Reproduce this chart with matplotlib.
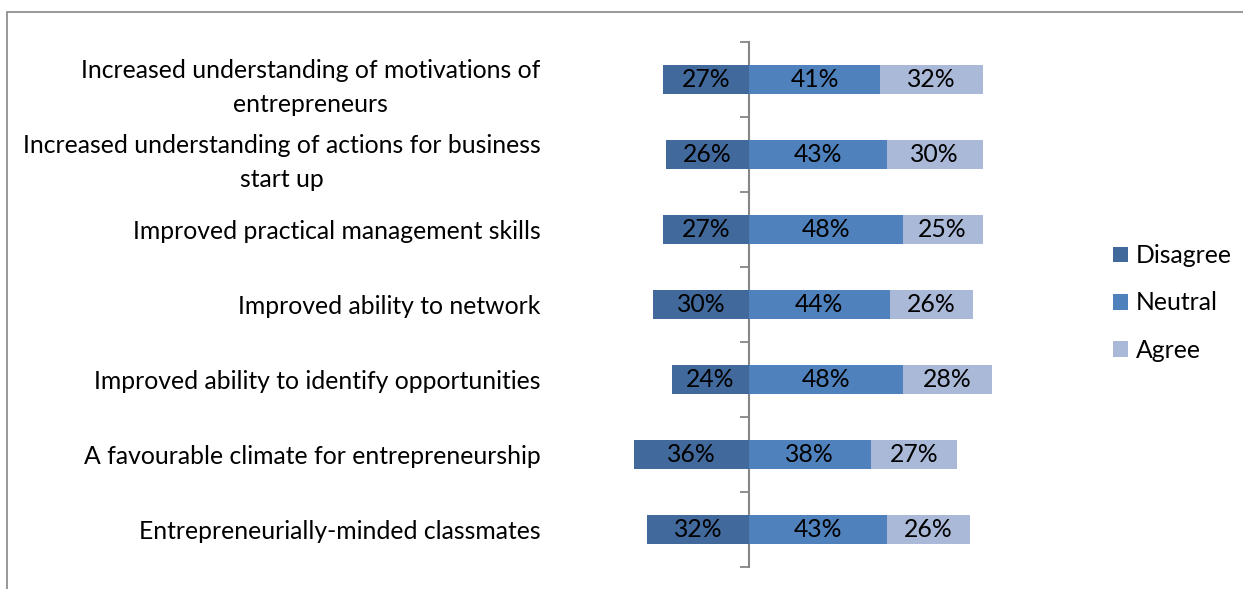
import matplotlib.pyplot as plt
from matplotlib.patches import Rectangle

plt.rcParams['font.family'] = ['Lato', 'DejaVu Sans']

categories = [
    "Increased understanding of motivations of\nentrepreneurs",
    "Increased understanding of actions for business\nstart up",
    "Improved practical management skills",
    "Improved ability to network",
    "Improved ability to identify opportunities",
    "A favourable climate for entrepreneurship",
    "Entrepreneurially-minded classmates",
]
disagree = [27, 26, 27, 30, 24, 36, 32]
neutral = [41, 43, 48, 44, 48, 38, 43]
agree = [32, 30, 25, 26, 28, 27, 26]

series_names = ["Disagree", "Neutral", "Agree"]
colors = ["#41699c", "#4f81bd", "#aab9d8"]

W, H = 1243, 589
fig = plt.figure(figsize=(W / 100, H / 100), dpi=100)

# plot area in pixels
left_px, right_px, top_px, bot_px = 550, 1080, 42, 567
ax = fig.add_axes([left_px / W, (H - bot_px) / H,
                   (right_px - left_px) / W, (bot_px - top_px) / H])

px_per_pct = 3.2
zero_px = 749
ax.set_xlim((left_px - zero_px) / px_per_pct, (right_px - zero_px) / px_per_pct)

y = list(range(len(categories)))
bh = 0.39
fs = 17.8

neg = [-d for d in disagree]
b1 = ax.barh(y, disagree, left=neg, height=bh, color=colors[0], label=series_names[0])
b2 = ax.barh(y, neutral, left=0, height=bh, color=colors[1], label=series_names[1])
b3 = ax.barh(y, agree, left=neutral, height=bh, color=colors[2], label=series_names[2])

for bars, vals in [(b1, disagree), (b2, neutral), (b3, agree)]:
    for bar, v in zip(bars, vals):
        ax.text(bar.get_x() + bar.get_width() / 2, bar.get_y() + bar.get_height() / 2,
                f"{v}%", ha='center', va='center', fontsize=fs, color='black')

ax.set_ylim(len(categories) - 0.5, -0.5)
ax.set_yticks(y)
ax.set_yticklabels(categories, fontsize=fs)
for t in ax.get_yticklabels():
    t.set_multialignment('center')
    t.set_linespacing(1.6)
ax.tick_params(axis='y', length=0, pad=7)
ax.set_xticks([])
for s in ax.spines.values():
    s.set_visible(False)

# center axis with boundary tick marks
x0 = (0 - ax.get_xlim()[0]) / (ax.get_xlim()[1] - ax.get_xlim()[0])
sec = ax.secondary_yaxis(x0)
sec.set_yticks([i - 0.5 for i in range(len(categories) + 1)])
sec.set_yticklabels([])
sec.tick_params(axis='y', length=6.5, width=1.3, color='#868686', direction='out')
sec.spines['left'].set_color('#868686')
sec.spines['left'].set_linewidth(1.5)

leg = fig.legend(handles=[b1, b2, b3], labels=series_names, loc='center left',
                 bbox_to_anchor=(1091 / W, (H - 303) / H), frameon=False,
                 fontsize=fs, handlelength=0.6, handleheight=0.6,
                 handletextpad=0.3, labelspacing=0.98)

# chart frame
fig.patches.append(Rectangle((7 / W, -0.1), 1.2, (H - 12) / H + 0.1,
                             transform=fig.transFigure, fill=False,
                             edgecolor='#868686', linewidth=1.2))

fig.savefig("out.png", dpi=100)
